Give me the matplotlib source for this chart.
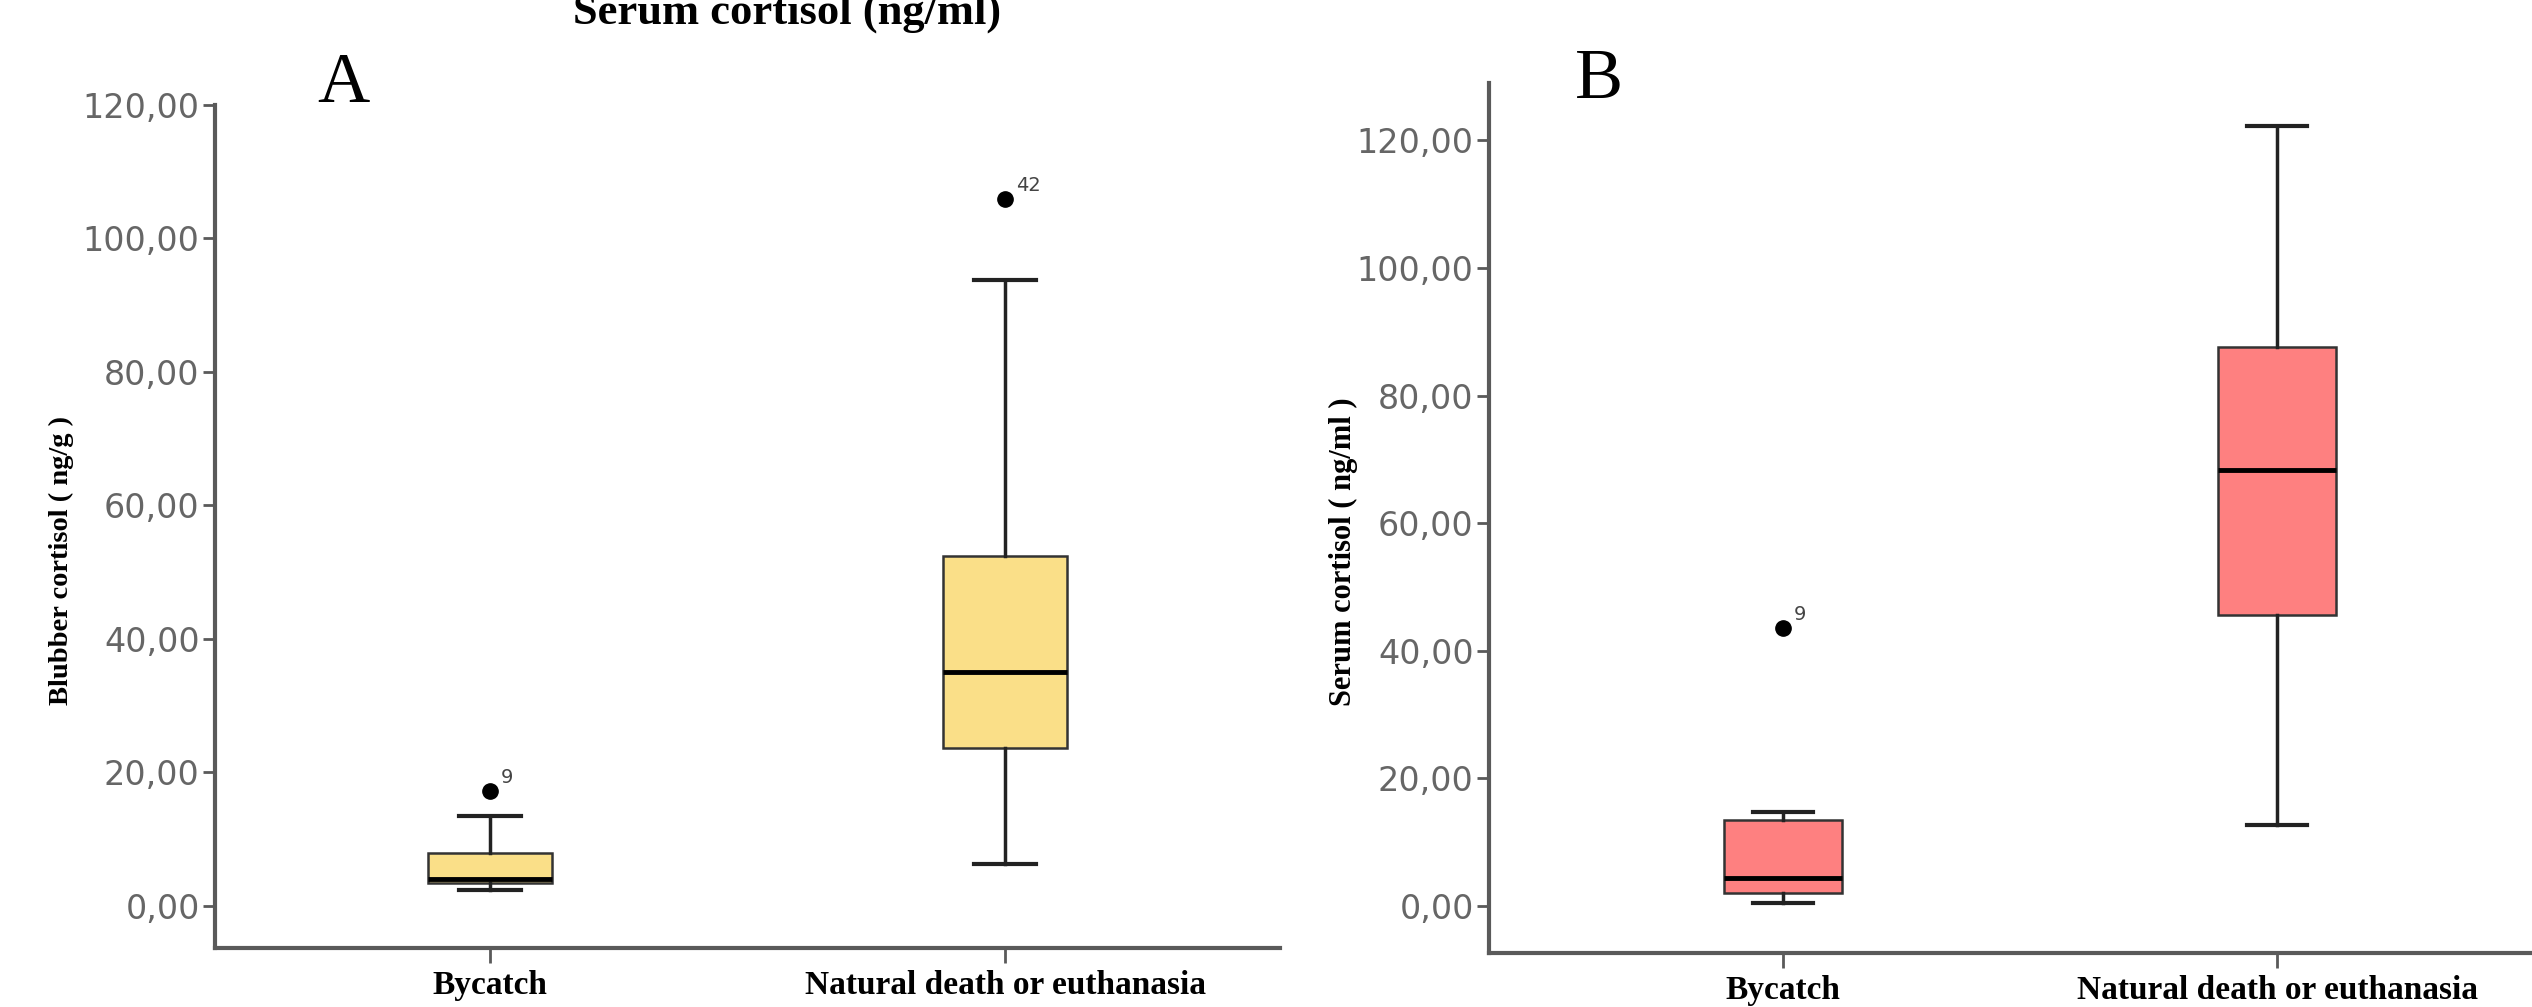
import matplotlib.pyplot as plt
import numpy as np

groups = ["Bycatch", "Natural death or euthanasia"]

# panel A: blubber cortisol (ng/g)
a_whislo = [2.4, 6.3]
a_q1 = [3.5, 23.7]
a_med = [4.0, 35.1]
a_q3 = [8.0, 52.5]
a_whishi = [13.5, 93.8]
a_fliers = [[17.2], [105.9]]
a_flier_ids = [["9"], ["42"]]

# panel B: serum cortisol (ng/ml)
b_whislo = [0.5, 12.7]
b_q1 = [2.0, 45.6]
b_med = [4.3, 68.4]
b_q3 = [13.4, 87.6]
b_whishi = [14.7, 122.3]
b_fliers = [[43.5], []]
b_flier_ids = [["9"], []]

yticks = [0, 20, 40, 60, 80, 100, 120]
ytick_labels = ["0,00", "20,00", "40,00", "60,00", "80,00", "100,00", "120,00"]

W, H = 2532, 1007
fig = plt.figure(figsize=(W / 100, H / 100), dpi=100)

serif = "Liberation Serif"
sans = "DejaVu Sans"
spine_col = "#5a5a5a"


def make_stats(whislo, q1, med, q3, whishi, fliers):
    stats = []
    for i in range(len(med)):
        stats.append(dict(whislo=whislo[i], q1=q1[i], med=med[i], q3=q3[i],
                          whishi=whishi[i], fliers=fliers[i]))
    return stats


def draw_panel(ax, stats, ids, color, ylim, xlim, ylabel, label_xy, label_size):
    ax.bxp(stats, positions=[1, 2], widths=0.24, patch_artist=True,
           boxprops=dict(facecolor=color, edgecolor="#333333", linewidth=1.8),
           medianprops=dict(color="black", linewidth=3.5),
           whiskerprops=dict(color="#222222", linewidth=2.5),
           capprops=dict(color="#222222", linewidth=3),
           capwidths=0.12,
           flierprops=dict(marker="o", markerfacecolor="black",
                           markeredgecolor="black", markersize=11))
    for i, st in enumerate(stats):
        for v, lab in zip(st["fliers"], ids[i]):
            ax.annotate(lab, (i + 1, v), xytext=(8, 6), textcoords="offset points",
                        fontsize=14, color="#444444", family=sans)
    ax.set_xlim(*xlim)
    ax.set_ylim(*ylim)
    ax.set_yticks(yticks)
    ax.set_yticklabels(ytick_labels, fontsize=24, color="#666666", family=sans)
    ax.set_xticks([1, 2])
    ax.set_xticklabels(groups, fontsize=24, family=serif, fontweight="bold")
    ax.tick_params(axis="y", length=9, width=2, color=spine_col, pad=2)
    ax.tick_params(axis="x", length=11, width=2, color=spine_col, pad=5)
    for s in ["top", "right"]:
        ax.spines[s].set_visible(False)
    for s in ["left", "bottom"]:
        ax.spines[s].set_color(spine_col)
        ax.spines[s].set_linewidth(3)
    ax.set_ylabel(ylabel, fontsize=label_size, family=serif, fontweight="bold")
    ax.yaxis.set_label_coords(*label_xy)


axA = fig.add_axes([215 / W, 1 - 948 / H, 1065 / W, (948 - 105) / H])
draw_panel(axA, make_stats(a_whislo, a_q1, a_med, a_q3, a_whishi, a_fliers),
           a_flier_ids, "#FADF88", (-6.3, 120), (0.467, 2.533),
           "Blubber cortisol ( ng/g )", (-0.132, 0.46), 20.5)

axB = fig.add_axes([1489 / W, 1 - 953 / H, 1082 / W, (953 - 83) / H])
draw_panel(axB, make_stats(b_whislo, b_q1, b_med, b_q3, b_whishi, b_fliers),
           b_flier_ids, "#FE8080", (-7.4, 129), (0.405, 2.595),
           "Serum cortisol ( ng/ml )", (-0.121, 0.461), 22)

fig.text(343 / W, 1 - 84 / H, "A", fontsize=52, family=serif, ha="center", va="center")
fig.text(1599 / W, 1 - 80 / H, "B", fontsize=52, family=serif, ha="center", va="center")
fig.text(787 / W, 1 - 24 / H, "Serum cortisol (ng/ml)", fontsize=32, family=serif,
         fontweight="bold", ha="center", va="baseline")

fig.savefig("out.png", dpi=100)
